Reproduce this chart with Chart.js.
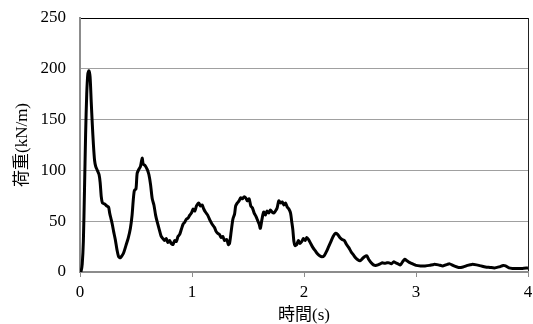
<!DOCTYPE html>
<html>
<head>
<meta charset="utf-8">
<script src="https://cdn.jsdelivr.net/npm/chart.js@4/dist/chart.umd.min.js"></script>
<style>
  html, body { margin: 0; padding: 0; background: #fff; }
  #wrap { width: 533px; height: 324px; }
</style>
</head>
<body>
<div id="wrap"><canvas id="loadChart"></canvas></div>
<script>
// time (s) and load (kN/m)
const timeValues = [
  0, 0.01, 0.02, 0.03, 0.04, 0.05, 0.06, 0.07, 0.08, 0.09,
  0.10, 0.11, 0.12, 0.13, 0.14, 0.155, 0.17, 0.18, 0.19, 0.20,
  0.22, 0.24, 0.255, 0.265, 0.28, 0.29, 0.30, 0.315, 0.33, 0.345,
  0.36, 0.375, 0.39, 0.41, 0.43, 0.45, 0.465, 0.475, 0.485, 0.50,
  0.51, 0.525, 0.54, 0.555, 0.565, 0.58, 0.60, 0.615, 0.63, 0.645,
  0.66, 0.675, 0.69, 0.71, 0.725, 0.74, 0.755, 0.77, 0.785, 0.80,
  0.815, 0.83, 0.845, 0.86, 0.875, 0.89, 0.905, 0.92, 0.935, 0.95,
  0.965, 0.98, 0.995, 1.01, 1.025, 1.04, 1.06, 1.075, 1.09, 1.105,
  1.12, 1.14, 1.16, 1.18, 1.20, 1.215, 1.23, 1.245, 1.26, 1.275,
  1.29, 1.31, 1.325, 1.335, 1.35, 1.365, 1.38, 1.39, 1.405, 1.42,
  1.435, 1.45, 1.465, 1.48, 1.495, 1.51, 1.525, 1.54, 1.555, 1.57,
  1.585, 1.60, 1.61, 1.625, 1.64, 1.655, 1.67, 1.685, 1.70, 1.715,
  1.73, 1.745, 1.76, 1.775, 1.79, 1.805, 1.82, 1.835, 1.85, 1.865,
  1.88, 1.89, 1.90, 1.91, 1.92, 1.935, 1.95, 1.965, 1.98, 1.995,
  2.01, 2.025, 2.04, 2.06, 2.08, 2.10, 2.12, 2.14, 2.16, 2.18,
  2.20, 2.22, 2.24, 2.26, 2.28, 2.30, 2.32, 2.34, 2.36, 2.38,
  2.40, 2.42, 2.44, 2.46, 2.48, 2.50, 2.52, 2.54, 2.56, 2.58,
  2.60, 2.62, 2.64, 2.66, 2.68, 2.70, 2.72, 2.74, 2.76, 2.78,
  2.80, 2.82, 2.84, 2.86, 2.88, 2.90, 2.92, 2.94, 2.96, 2.98,
  3.00, 3.04, 3.08, 3.12, 3.16, 3.20, 3.24, 3.28, 3.30, 3.34,
  3.38, 3.42, 3.46, 3.50, 3.54, 3.58, 3.62, 3.66, 3.70, 3.74,
  3.78, 3.80, 3.83, 3.86, 3.90, 3.95, 4.00
];
const loadValues = [
  0, 1, 8, 30, 80, 135, 175, 195, 198, 192,
  168, 145, 125, 110, 104, 100, 96, 88, 74, 68,
  67, 65, 64, 58, 51, 46, 40, 32, 22, 15,
  14, 16, 19, 26, 33, 43, 56, 70, 80, 82,
  97, 101, 104, 112, 106, 105, 101, 96, 86, 72,
  66, 56, 49, 41, 35, 33, 31, 33, 29, 31,
  28, 27, 31, 30, 35, 37, 42, 47, 49, 52,
  53, 56, 58, 62, 60, 65, 68, 65, 66, 62,
  59, 56, 51, 47, 44, 40, 38, 37, 34, 35,
  31, 32, 27, 28, 40, 52, 57, 65, 68, 70,
  73, 72, 74, 73, 70, 72, 65, 63, 58, 55,
  51, 47, 43, 52, 59, 56, 60, 58, 61, 59,
  58, 60, 63, 70, 68, 69, 66, 68, 64, 62,
  58, 50, 42, 30, 26, 27, 31, 28, 30, 33,
  31, 34, 32, 28, 24, 21, 18, 16, 15, 16,
  20, 25, 30, 35, 38, 37, 34, 32, 31, 27,
  24, 20, 17, 14, 12, 11, 13, 15, 16, 12,
  9, 7, 6.5, 7, 8, 9, 8.5, 9, 9, 8,
  10, 9, 8, 7, 10, 12.5, 11, 9.5, 8.5, 7.5,
  6.5, 6, 6, 6.5, 7.5, 7, 6, 7.5, 8, 6,
  4.5, 5, 6.5, 7.5, 7, 6, 5, 4.5, 4, 5,
  6.5, 6, 4, 3.5, 3.5, 3.5, 4
];
const xTicks = [0, 1, 2, 3, 4];
const yTicks = [0, 50, 100, 150, 200, 250];

const fontFamily = '"Liberation Serif", "Noto Sans CJK JP", serif';

const points = timeValues.map((t, i) => ({ x: t, y: loadValues[i] }));

const ctx = document.getElementById("loadChart").getContext("2d");
const chart = new Chart(ctx, {
  type: "line",
  data: {
    datasets: [{
      data: points,
      borderColor: "#000",
      borderWidth: 3,
      pointRadius: 0,
      tension: 0.25,
      fill: false,
    }],
  },
  options: {
    responsive: true,
    maintainAspectRatio: false,
    animation: false,
    layout: { padding: { top: 18, right: 5, bottom: 0, left: 0 } },
    plugins: {
      legend: { display: false },
      tooltip: { enabled: false },
    },
    scales: {
      x: {
        type: "linear",
        min: xTicks[0],
        max: xTicks[xTicks.length - 1],
        afterBuildTicks: (scale) => { scale.ticks = xTicks.map(v => ({ value: v })); },
        afterFit: (scale) => {
          scale.height = 52;
          scale.paddingLeft = 0;
          scale.paddingRight = 0;
        },
        border: { color: "#8c8c8c", width: 2 },
        grid: {
          drawOnChartArea: true,
          drawTicks: true,
          tickLength: 5,
          color: (c) => (c.tick && c.tick.value === 4 ? "#222" : "transparent"),
          tickColor: "#8c8c8c",
        },
        ticks: {
          color: "#000",
          padding: 5,
          maxRotation: 0,
          font: { family: fontFamily, size: 17 },
        },
        title: {
          display: true,
          text: "時間(s)",
          color: "#000",
          padding: { top: 0, bottom: 0 },
          font: { family: fontFamily, size: 17, lineHeight: 1 },
        },
      },
      y: {
        min: yTicks[0],
        max: yTicks[yTicks.length - 1],
        afterBuildTicks: (scale) => { scale.ticks = yTicks.map(v => ({ value: v })); },
        afterFit: (scale) => {
          scale.width = 80;
          scale.paddingTop = 0;
          scale.paddingBottom = 0;
        },
        border: { color: "#8c8c8c", width: 2 },
        grid: {
          drawTicks: false,
          color: (c) => (c.tick && c.tick.value === 250 ? "#000" : "#a0a0a0"),
          lineWidth: 1,
        },
        ticks: {
          color: "#000",
          padding: 14,
          font: { family: fontFamily, size: 17 },
        },
        title: {
          display: true,
          text: "荷重(kN/m)",
          color: "#000",
          padding: { top: 14, bottom: 0 },
          font: { family: fontFamily, size: 17, lineHeight: 1 },
        },
      },
    },
  },
});
</script>
</body>
</html>
